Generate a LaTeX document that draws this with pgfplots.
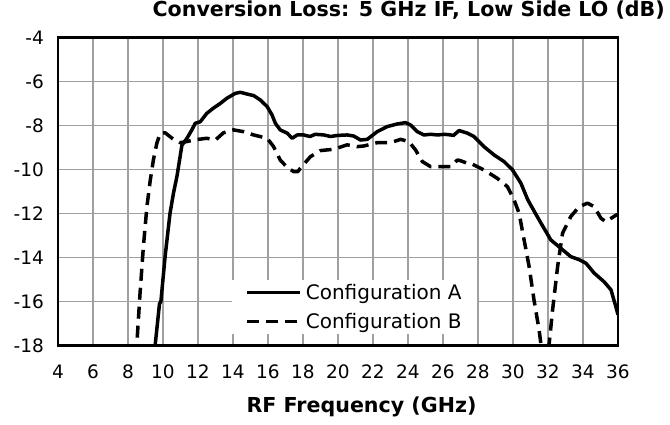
\documentclass[border=0pt]{standalone}
\usepackage{fontspec}
\setmainfont{DejaVu Sans}
\usepackage{pgfplots}
\pgfplotsset{compat=1.18}
\definecolor{gridgray}{RGB}{160,160,160}
\begin{document}
\begin{tikzpicture}
\begin{axis}[
  at={(0pt,0pt)}, anchor=south west,
  scale only axis, width=560pt, height=308pt,
  xmin=4, xmax=36, ymin=-18, ymax=-4,
  xtick={4,6,...,36}, ytick={-18,-16,...,-4},
  grid=major, major grid style={gridgray, line width=1.4pt},
  axis line style={black, line width=2.6pt},
  major tick length=0pt,
  /pgf/number format/assume math mode=true,
  tick label style={font=\fontsize{18.5}{22}\selectfont},
  xticklabel style={inner sep=0pt, yshift=-19pt},
  yticklabel style={inner sep=0pt, xshift=-14pt},
  title={\textbf{Conversion Loss: 5 GHz IF, Low Side LO (dB)}},
  title style={at={(1.084,1.05)}, anchor=base east, inner sep=0pt, font=\fontsize{20.6}{24}\selectfont},
  xlabel={\textbf{RF Frequency (GHz)}},
  xlabel style={at={(0.542,-0.219)}, anchor=base, inner sep=0pt, font=\fontsize{20.6}{24}\selectfont},
  legend cell align=left,
  legend image code/.code={\draw[#1] (0pt,0pt) -- (53pt,0pt);},
  legend style={at={(0.311,0.2127)}, anchor=north west, draw=none, fill=white,
    font=\fontsize{20}{24}\selectfont, inner xsep=13pt, inner ysep=2pt,
    nodes={inner sep=2pt}, row sep=8.5pt, column sep=2pt},
  clip=true,
]
\addplot[black, line width=3.5pt, line join=round] coordinates {
(9.45,-18.5) (9.55,-18) (9.8,-16.1) (9.88,-16) (10.12,-13.96) (10.4,-12) (10.6,-11.07) (10.8,-10.3) (11.08,-8.9) (11.37,-8.58) (11.65,-8.2) (11.84,-7.9) (12.13,-7.83) (12.5,-7.45) (12.9,-7.2) (13.27,-7.0) (13.65,-6.76) (14.13,-6.54) (14.42,-6.49) (14.8,-6.57) (15.18,-6.64) (15.56,-6.84) (15.95,-7.14) (16.23,-7.52) (16.42,-7.9) (16.7,-8.2) (17.1,-8.35) (17.38,-8.58) (17.67,-8.43) (18.04,-8.43) (18.4,-8.5) (18.7,-8.4) (19.19,-8.43) (19.57,-8.5) (20.0,-8.45) (20.52,-8.43) (20.9,-8.48) (21.29,-8.66) (21.67,-8.63) (22.24,-8.28) (22.81,-8.05) (23.39,-7.93) (23.86,-7.87) (24.15,-7.98) (24.53,-8.28) (24.91,-8.43) (25.3,-8.4) (25.68,-8.43) (26.1,-8.4) (26.44,-8.43) (26.6,-8.45) (26.92,-8.23) (27.4,-8.35) (27.77,-8.5) (28.34,-8.96) (28.92,-9.34) (29.49,-9.64) (29.97,-10.02) (30.45,-10.62) (30.83,-11.35) (31.0,-11.6) (31.6,-12.44) (32.16,-13.2) (32.73,-13.58) (33.3,-13.96) (33.78,-14.1) (34.17,-14.26) (34.64,-14.71) (35.2,-15.1) (35.6,-15.47) (35.9,-16.3) (36,-16.6)
};
\addlegendentry{Configuration A}
\addplot[black, line width=3.5pt, dash pattern=on 12pt off 7pt, line join=round] coordinates {
(8.4,-18.5) (8.5,-18) (8.69,-15.6) (8.88,-13.5) (9.08,-11.7) (9.27,-10.5) (9.45,-9.57) (9.65,-8.8) (9.84,-8.35) (10.12,-8.33) (10.6,-8.63) (10.98,-8.78) (11.37,-8.73) (11.75,-8.66) (12.5,-8.58) (12.99,-8.66) (13.46,-8.33) (14.03,-8.2) (14.6,-8.28) (15.18,-8.43) (15.95,-8.58) (16.32,-8.96) (16.7,-9.57) (17.09,-9.9) (17.47,-10.1) (17.7,-10.1) (17.85,-9.94) (18.42,-9.42) (19.0,-9.14) (19.76,-9.08) (20.52,-8.88) (21.1,-8.96) (21.48,-8.93) (22.24,-8.78) (23.0,-8.78) (23.58,-8.63) (24.05,-8.73) (24.43,-9.11) (24.82,-9.64) (25.29,-9.87) (26.06,-9.87) (26.44,-9.87) (26.82,-9.57) (27.0,-9.6) (27.4,-9.72) (27.58,-9.72) (28.34,-10.02) (29.1,-10.4) (29.68,-10.78) (30.06,-11.38) (30.35,-11.99) (30.54,-12.8) (30.92,-14.41) (31.2,-15.93) (31.49,-17.29) (31.59,-17.9) (31.83,-18.6) (32.07,-17.9) (32.26,-16.4) (32.55,-14.41) (32.83,-12.9) (33.3,-12.14) (33.78,-11.69) (34.26,-11.53) (34.64,-11.69) (35.03,-12.22) (35.3,-12.37) (35.6,-12.22) (35.9,-12.07) (36,-12.05)
};
\addlegendentry{Configuration B}
\end{axis}
\path[use as bounding box] (-58pt,-79.5pt) rectangle (612pt,345.5pt);
\end{tikzpicture}
\end{document}
